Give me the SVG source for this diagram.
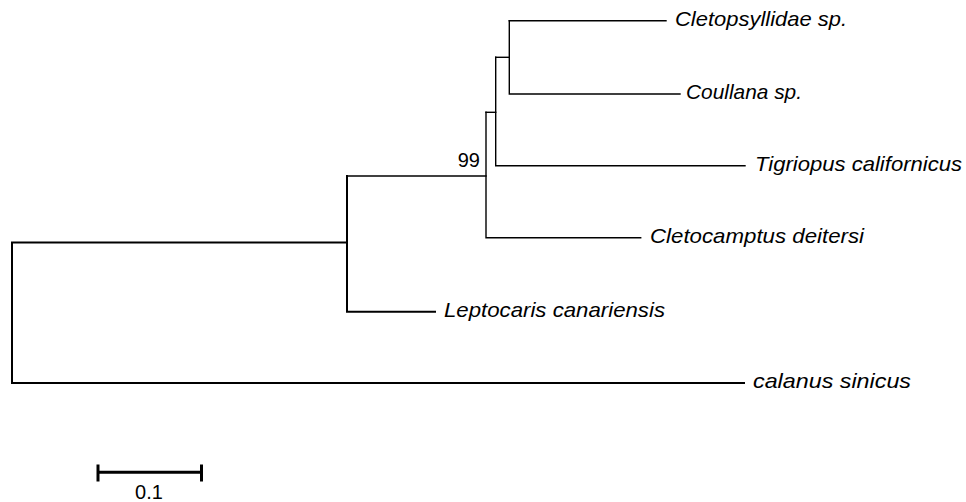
<svg xmlns="http://www.w3.org/2000/svg" width="966" height="502" viewBox="0 0 966 502">
<style>
.br{fill:none;stroke:#000;stroke-width:1.4;stroke-linecap:square;stroke-linejoin:miter}
.thick{stroke-width:2}
.lab{font-family:"Liberation Sans",Arial,sans-serif;font-style:italic;font-size:21px;fill:#000}
.num{font-family:"Liberation Sans",Arial,sans-serif;font-size:20px;fill:#000}
.bar{fill:none;stroke:#000;stroke-width:3}
</style>
<rect width="966" height="502" fill="#fff"/>
<g id="connectors">
<path class="br thick" d="M347,242.5 H12 V383 H744"/>
<path class="br thick" d="M347,176 V311.7 H435"/>
<path class="br" d="M347,176 H486"/>
<path class="br" d="M486,112.3 V237.7 H640.7"/>
<path class="br" d="M486,112.3 H495.7"/>
<path class="br" d="M495.7,57.3 V165.7 H745"/>
<path class="br" d="M495.7,57.3 H509.3"/>
<path class="br" d="M509.3,20.7 V94 H680"/>
<path class="br" d="M509.3,20.7 H666"/>
</g>
<g id="leaf-cletopsyllidae"><text class="lab" x="675" y="26" textLength="172" lengthAdjust="spacingAndGlyphs">Cletopsyllidae sp.</text></g>
<g id="leaf-coullana"><text class="lab" x="686" y="99" textLength="116" lengthAdjust="spacingAndGlyphs">Coullana sp.</text></g>
<g id="leaf-tigriopus"><text class="lab" x="755" y="171" textLength="207" lengthAdjust="spacingAndGlyphs">Tigriopus californicus</text></g>
<g id="leaf-cletocamptus"><text class="lab" x="650" y="243" textLength="214" lengthAdjust="spacingAndGlyphs">Cletocamptus deitersi</text></g>
<g id="leaf-leptocaris"><text class="lab" x="444" y="317" textLength="221" lengthAdjust="spacingAndGlyphs">Leptocaris canariensis</text></g>
<g id="leaf-calanus"><text class="lab" x="753" y="388" textLength="158" lengthAdjust="spacingAndGlyphs">calanus sinicus</text></g>
<g id="bootstrap-99"><text class="num" x="480" y="167" text-anchor="end">99</text></g>
<g id="scale-bar">
<path class="bar" d="M97,472.3 H202.5 M98,464.5 V481.5 M201.5,464.5 V481.5"/>
<text class="num" x="149" y="499" text-anchor="middle">0.1</text>
</g>
</svg>
